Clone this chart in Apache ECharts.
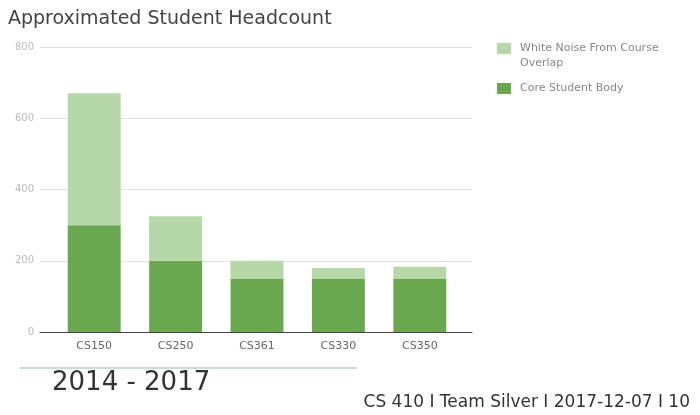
<!DOCTYPE html>
<html>
<head>
<meta charset="utf-8">
<script src="https://cdn.jsdelivr.net/npm/echarts@6/dist/echarts.min.js"></script>
<style>html,body{margin:0;padding:0;background:#fff}#c{width:700px;height:415px}</style>
</head>
<body>
<div id="c"></div>
<script>
var categories = ['CS150', 'CS250', 'CS361', 'CS330', 'CS350'];
var coreStudentBody = [300, 200, 150, 150, 150];
var whiteNoise = [370, 125, 50, 30, 33];
var yTicks = [0, 200, 400, 600, 800];

var legendText = {fontFamily: 'DejaVu Sans', fontSize: 11, color: '#888', width: 170, overflow: 'break', lineHeight: 15, padding: [0, 0, 0, 4]};

var chart = echarts.init(document.getElementById('c'));
chart.setOption({
  animation: false,
  title: {
    text: 'Approximated Student Headcount',
    left: 3, top: 5,
    textStyle: {fontFamily: 'DejaVu Sans', fontSize: 19, fontWeight: 'normal', color: '#444'}
  },
  legend: [
    {
      orient: 'vertical', left: 497, top: 26, padding: 0,
      itemWidth: 14, itemHeight: 11, icon: 'rect',
      data: ['White Noise From Course Overlap'],
      formatter: function (n) { return '\nWhite Noise From Course\nOverlap'; },
      textStyle: legendText
    },
    {
      orient: 'vertical', left: 497, top: 81, padding: 0,
      itemWidth: 14, itemHeight: 11, icon: 'rect',
      data: ['Core Student Body'],
      textStyle: legendText
    }
  ],
  grid: [
    {left: 40, width: 432, top: 47, height: 285},
    {left: 53.5, width: 407, top: 47, height: 285}
  ],
  xAxis: [
    {gridIndex: 0, type: 'value', min: 0, max: 1, axisLabel: {show: false}, axisTick: {show: false}, splitLine: {show: false},
     axisLine: {show: true, lineStyle: {color: '#444', width: 1}}},
    {gridIndex: 1, type: 'category', data: categories, axisLine: {show: false}, axisTick: {show: false},
     axisLabel: {fontFamily: 'DejaVu Sans', fontSize: 11, color: '#666', margin: 9}}
  ],
  yAxis: [
    {gridIndex: 0, type: 'value', min: yTicks[0], max: yTicks[yTicks.length - 1], interval: 200,
     axisLine: {show: false}, axisTick: {show: false},
     axisLabel: {fontFamily: 'DejaVu Sans', fontSize: 10, color: '#bbb', margin: 6},
     splitLine: {lineStyle: {color: '#e2e2e2', width: 1}}},
    {gridIndex: 1, type: 'value', min: yTicks[0], max: yTicks[yTicks.length - 1], show: false, splitLine: {show: false}}
  ],
  series: [
    {name: 'Core Student Body', type: 'bar', stack: 's', xAxisIndex: 1, yAxisIndex: 1, data: coreStudentBody,
     barWidth: '65%', itemStyle: {color: '#6aa84f'}},
    {name: 'White Noise From Course Overlap', type: 'bar', stack: 's', xAxisIndex: 1, yAxisIndex: 1, data: whiteNoise,
     barWidth: '65%', itemStyle: {color: '#b6d7a8'}}
  ],
  graphic: [
    {type: 'line', shape: {x1: 20, y1: 368, x2: 357, y2: 368}, style: {stroke: '#c9dcd8', lineWidth: 2}},
    {type: 'text', left: 52, top: 370, style: {text: '2014 - 2017', font: '26px "DejaVu Sans"', fill: '#333'}},
    {type: 'text', right: 10, top: 394, style: {text: 'CS 410 I Team Silver I 2017-12-07 I 10', font: '17px "DejaVu Sans"', fill: '#333'}}
  ]
});
</script>
</body>
</html>
